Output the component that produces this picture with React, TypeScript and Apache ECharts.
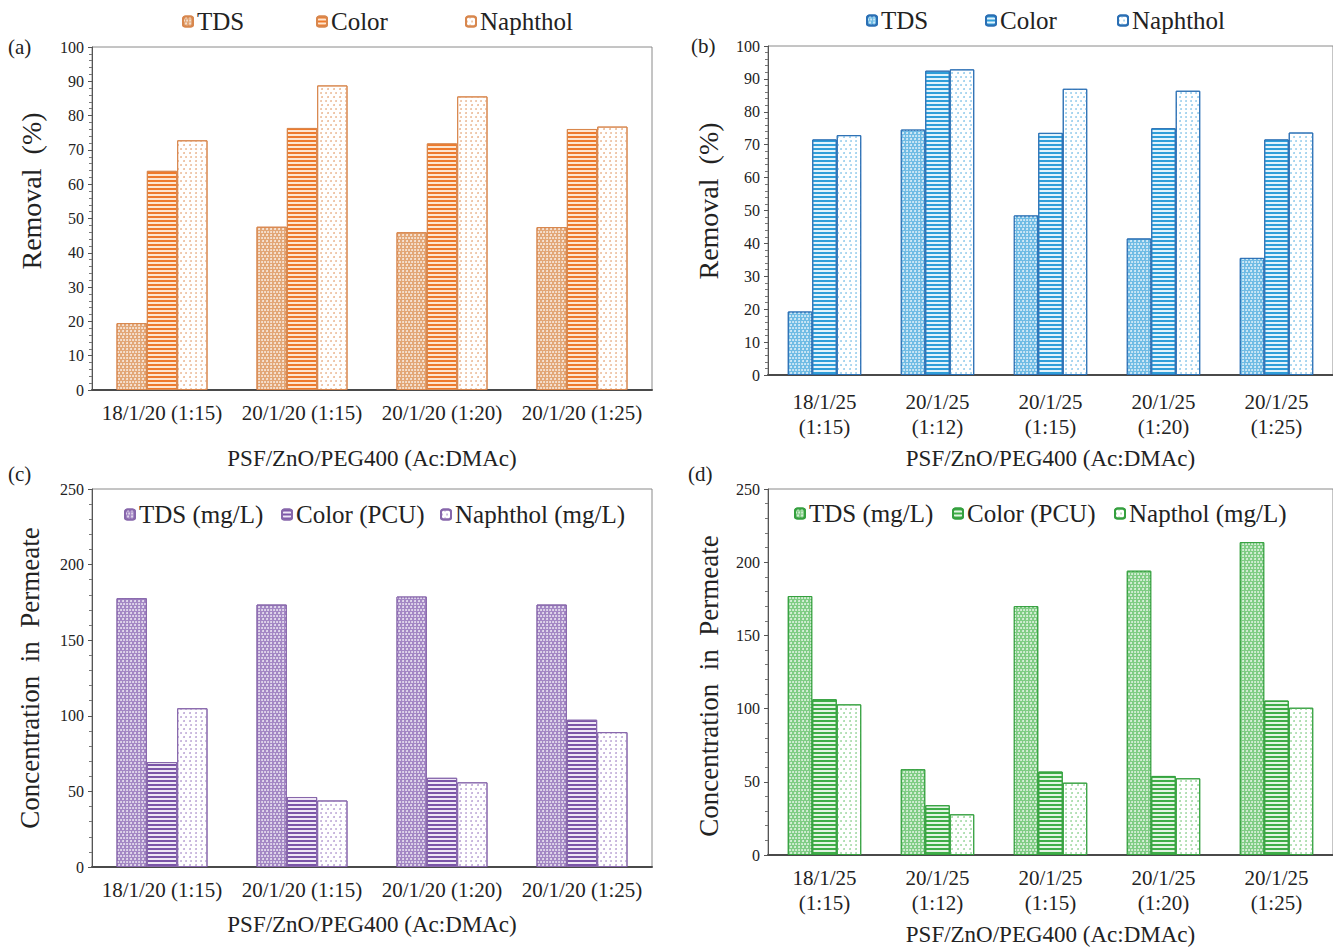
import React, { useEffect, useRef } from "react";
import * as echarts from "echarts";

const categories20 = ["18/1/20 (1:15)", "20/1/20 (1:15)", "20/1/20 (1:20)", "20/1/20 (1:25)"];
const categories25 = ["18/1/25\n(1:15)", "20/1/25\n(1:12)", "20/1/25\n(1:15)", "20/1/25\n(1:20)", "20/1/25\n(1:25)"];

// (a) Removal %, 20 wt% series
const aTDS = [19.5, 47.6, 46.0, 47.5];
const aColor = [63.9, 76.4, 71.9, 76.1];
const aNaphthol = [72.8, 88.8, 85.6, 76.8];

// (b) Removal %, 25 wt% series
const bTDS = [19.3, 74.6, 48.5, 41.5, 35.6];
const bColor = [71.6, 92.5, 73.6, 75.0, 71.6];
const bNaphthol = [72.9, 92.9, 87.0, 86.4, 73.7];

// (c) Concentration in permeate, 20 wt% series
const cTDS = [177.8, 173.6, 178.9, 173.6];
const cColor = [69.4, 46.3, 59.0, 97.4];
const cNaphthol = [105.0, 44.0, 56.0, 89.2];

// (d) Concentration in permeate, 25 wt% series
const dTDS = [176.9, 58.6, 170.0, 194.2, 213.7];
const dColor = [106.4, 34.0, 57.0, 54.0, 105.5];
const dNaphthol = [102.9, 27.8, 49.4, 52.4, 100.6];

const legendRemoval = ["TDS", "Color", "Naphthol"];
const legendConcC = ["TDS (mg/L)", "Color (PCU)", "Naphthol (mg/L)"];
const legendConcD = ["TDS (mg/L)", "Color (PCU)", "Napthol (mg/L)"];

const xTitle = "PSF/ZnO/PEG400 (Ac:DMAc)";
const yTitleRemoval = "Removal  (%)";
const yTitleConc = "Concentration  in  Permeate";

const FONT = "Liberation Serif";
const TXT = "#222";

type Pal = { main: string; border: string; light: string; tds: string; dot: string };
const orange: Pal = { main: "#ee7a2c", border: "#d8874e", light: "#fde6d0", tds: "#e2a676", dot: "#e9b48e" };
const blue: Pal = { main: "#2f9ed9", border: "#2b6fb4", light: "#e2f3fc", tds: "#6fbbe4", dot: "#8cc8ea" };
const purple: Pal = { main: "#7b55a8", border: "#8767ab", light: "#efe7f6", tds: "#a387c4", dot: "#b7a0d2" };
const green: Pal = { main: "#3fae48", border: "#35a03f", light: "#e3f5e3", tds: "#7fcc84", dot: "#98d59b" };

function mkSeries(prefix: string, idx: number, pal: Pal, tds: number[], color: number[], naph: number[]) {
  const common = {
    type: "bar",
    xAxisIndex: idx,
    yAxisIndex: idx,
    barGap: "0%",
    barCategoryGap: "35%",
  };
  return [
    {
      ...common,
      name: prefix + "TDS",
      data: tds,
      itemStyle: {
        color: pal.tds,
        borderColor: pal.border,
        borderWidth: 1,
        decal: {
          symbol: "circle",
          symbolSize: 0.9,
          color: "rgba(255,255,255,0.85)",
          dashArrayX: [[2, 1], [0, 1.5, 2, -0.5]],
          dashArrayY: [2, 0.5],
        },
      },
    },
    {
      ...common,
      name: prefix + "Color",
      data: color,
      itemStyle: {
        color: pal.light,
        borderColor: pal.border,
        borderWidth: 1,
        decal: {
          symbol: "rect",
          symbolSize: 1,
          color: pal.main,
          dashArrayX: [1, 0],
          dashArrayY: [2, 2],
        },
      },
    },
    {
      ...common,
      name: prefix + "Naph",
      data: naph,
      itemStyle: {
        color: "#ffffff",
        borderColor: pal.border,
        borderWidth: 1,
        decal: {
          symbol: "circle",
          symbolSize: 0.9,
          color: pal.dot,
          dashArrayX: [[2, 3], [0, 2.5, 2, 0.5]],
          dashArrayY: [2, 2],
        },
      },
    },
  ];
}

function legendItem(seriesName: string, label: string, left: number, centerY: number) {
  return {
    data: [seriesName],
    left,
    top: centerY - 13,
    padding: 0,
    itemWidth: 10,
    itemHeight: 10,
    itemGap: 4,
    selectedMode: false,
    formatter: () => label,
    textStyle: { fontFamily: FONT, fontSize: 25, color: TXT, padding: [0, 0, 0, -1] },
  };
}

function yTitle(text: string, x: number, y: number, size: number) {
  return {
    type: "text",
    x,
    y,
    rotation: Math.PI / 2,
    style: {
      text,
      fontFamily: FONT,
      fontSize: size,
      fill: TXT,
      textAlign: "center",
      textVerticalAlign: "middle",
    },
  };
}

export default function App() {
  const ref = useRef<HTMLDivElement>(null);
  useEffect(() => {
    if (!ref.current) return;
    const chart = echarts.init(ref.current, undefined, { renderer: "svg" });

    const grids = [
      { left: 92, top: 47, width: 560, height: 343 },
      { left: 768, top: 46, width: 577, height: 329 },
      { left: 92, top: 489, width: 560, height: 378 },
      { left: 768, top: 489, width: 577, height: 366 },
    ].map((g) => ({ ...g, show: true, borderColor: "#8a8a8a", borderWidth: 1 }));

    const xAxisBase = (gi: number, cats: string[], margin: number, nameGap: number, lh: number) => ({
      type: "category",
      gridIndex: gi,
      data: cats,
      axisTick: { show: false },
      axisLine: { lineStyle: { color: "#4a4a4a", width: 2 } },
      axisLabel: { fontFamily: FONT, fontSize: 21, color: TXT, margin, lineHeight: lh, interval: 0 },
      name: xTitle,
      nameLocation: "middle",
      nameGap,
      nameTextStyle: { fontFamily: FONT, fontSize: 23, color: TXT },
    });

    const yAxisBase = (gi: number, max: number, interval: number) => ({
      type: "value",
      gridIndex: gi,
      min: 0,
      max,
      interval,
      axisLine: { show: true, lineStyle: { color: "#555", width: 1 } },
      axisTick: { show: true, length: 4, lineStyle: { color: "#555" } },
      minorTick: { show: true, splitNumber: 5, length: 3, lineStyle: { color: "#777" } },
      splitLine: { show: false },
      axisLabel: { fontFamily: FONT, fontSize: 16, color: TXT, margin: 8 },
    });

    const option = {
      animation: false,
      backgroundColor: "#ffffff",
      grid: grids,
      xAxis: [
        xAxisBase(0, categories20, 12, 57, 21),
        xAxisBase(1, categories25, 14, 72, 25),
        xAxisBase(2, categories20, 12, 46, 21),
        xAxisBase(3, categories25, 10, 68, 25),
      ],
      yAxis: [
        yAxisBase(0, 100, 10),
        yAxisBase(1, 100, 10),
        yAxisBase(2, 250, 50),
        yAxisBase(3, 250, 50),
      ],
      legend: [
        legendItem("aTDS", legendRemoval[0], 182, 22),
        legendItem("aColor", legendRemoval[1], 316, 22),
        legendItem("aNaph", legendRemoval[2], 465, 22),
        legendItem("bTDS", legendRemoval[0], 866, 21),
        legendItem("bColor", legendRemoval[1], 985, 21),
        legendItem("bNaph", legendRemoval[2], 1117, 21),
        legendItem("cTDS", legendConcC[0], 124, 515),
        legendItem("cColor", legendConcC[1], 281, 515),
        legendItem("cNaph", legendConcC[2], 440, 515),
        legendItem("dTDS", legendConcD[0], 794, 514),
        legendItem("dColor", legendConcD[1], 952, 514),
        legendItem("dNaph", legendConcD[2], 1114, 514),
      ],
      graphic: [
        { type: "text", left: 8, top: 36, style: { text: "(a)", fontFamily: FONT, fontSize: 21, fill: TXT } },
        { type: "text", left: 691, top: 35, style: { text: "(b)", fontFamily: FONT, fontSize: 21, fill: TXT } },
        { type: "text", left: 8, top: 463, style: { text: "(c)", fontFamily: FONT, fontSize: 21, fill: TXT } },
        { type: "text", left: 688, top: 463, style: { text: "(d)", fontFamily: FONT, fontSize: 21, fill: TXT } },
        yTitle(yTitleRemoval, 31, 191, 28),
        yTitle(yTitleRemoval, 708, 201, 28),
        yTitle(yTitleConc, 30, 678, 27),
        yTitle(yTitleConc, 709, 686, 27),
      ],
      series: [
        ...mkSeries("a", 0, orange, aTDS, aColor, aNaphthol),
        ...mkSeries("b", 1, blue, bTDS, bColor, bNaphthol),
        ...mkSeries("c", 2, purple, cTDS, cColor, cNaphthol),
        ...mkSeries("d", 3, green, dTDS, dColor, dNaphthol),
      ],
    };
    chart.setOption(option as any);
    return () => chart.dispose();
  }, []);
  return (
    <div
      ref={ref}
      style={{ position: "absolute", left: 0, top: 0, width: 1333, height: 948, background: "#fff" }}
    />
  );
}
